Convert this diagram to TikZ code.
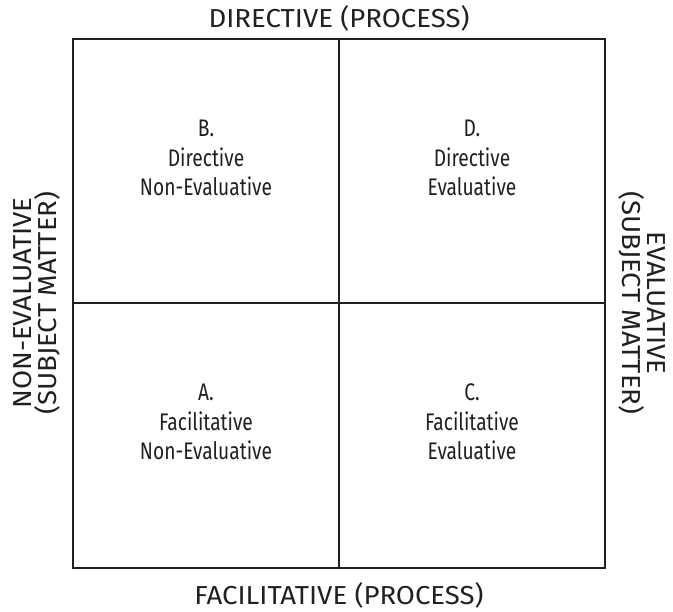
\documentclass[tikz,border=0pt]{standalone}
\usepackage{fontspec}
\setmainfont{Fira Sans}
\newfontfamily\edgefont[FakeStretch=1.06]{Fira Sans}
\newfontfamily\cellfont[FakeStretch=0.8]{Fira Sans}
\definecolor{ink}{HTML}{231F20}
\begin{document}
\begin{tikzpicture}[x=1pt,y=-1pt,line width=2pt,ink,
            edge/.style={font=\edgefont\fontsize{26}{25}\selectfont,align=center},
            cell/.style={font=\cellfont\fontsize{24}{29.5}\selectfont,align=center}]
            \useasboundingbox(0,0)rectangle(673,612);
            \draw(73,39)rectangle(605,568);
            \draw(339,39)--(339,568);
            \draw(73,303)--(605,303);
            \node(top)[edge,anchor=base]at(339,28){DIRECTIVE (PROCESS)};
            \node(bottom)[edge,anchor=base]at(339,605){FACILITATIVE (PROCESS)};
            \node(left)[edge,rotate=90]at(37,303){NON-EVALUATIVE\\(SUBJECT MATTER)};
            \node(right)[edge,rotate=-90]at(642,303){EVALUATIVE\\(SUBJECT MATTER)};
            \node(B)[cell]at(206,158){B.\\Directive\\Non-Evaluative};
            \node(D)[cell]at(472,158){D.\\Directive\\Evaluative};
            \node(A)[cell]at(206,422){A.\\Facilitative\\Non-Evaluative};
            \node(C)[cell]at(472,422){C.\\Facilitative\\Evaluative};
        \end{tikzpicture}
\end{document}
